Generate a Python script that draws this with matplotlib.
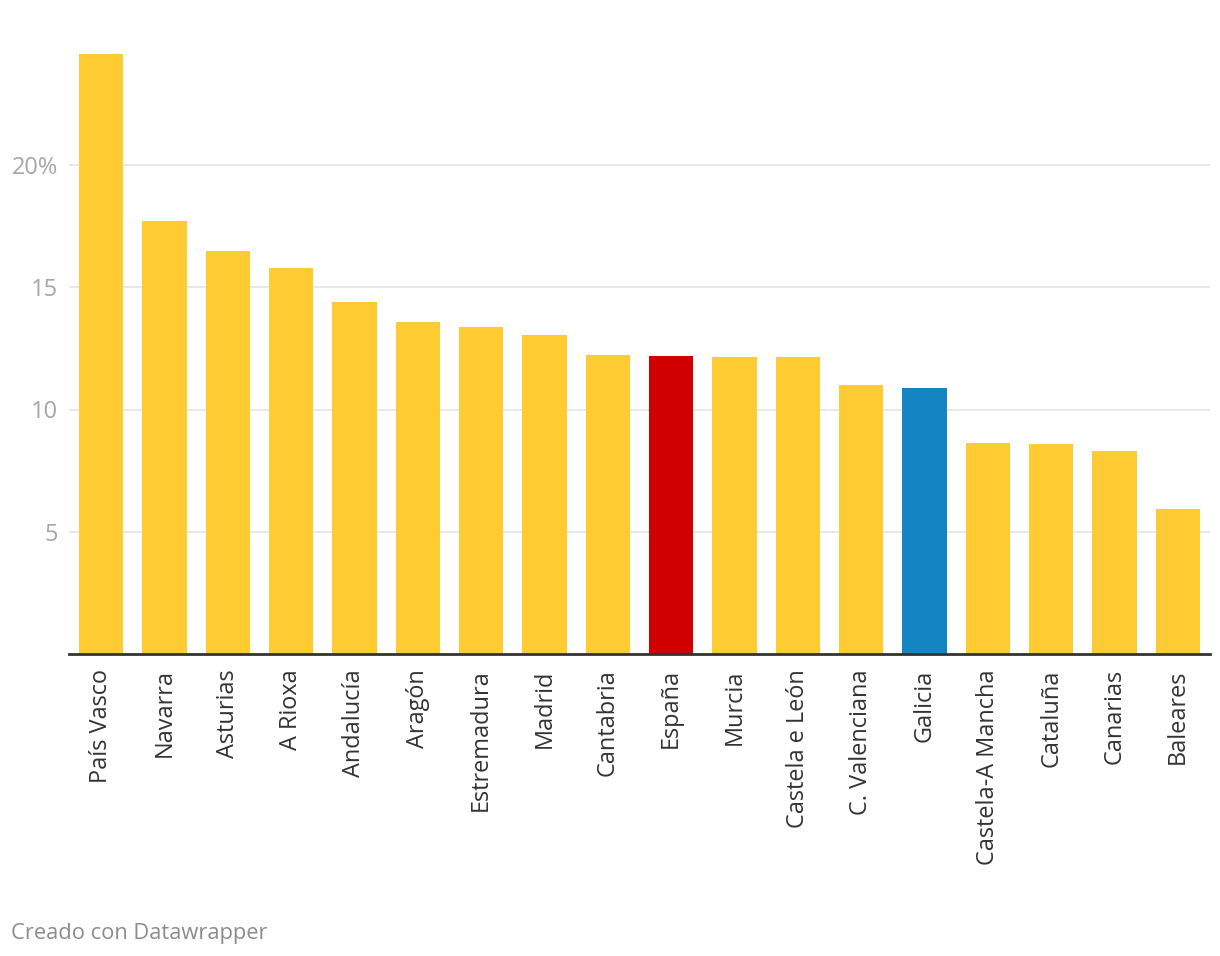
import matplotlib
matplotlib.use("Agg")
import matplotlib.pyplot as plt
from matplotlib.transforms import ScaledTranslation

regions = ["País Vasco", "Navarra", "Asturias", "A Rioxa", "Andalucía", "Aragón",
           "Estremadura", "Madrid", "Cantabria", "España", "Murcia", "Castela e León",
           "C. Valenciana", "Galicia", "Castela-A Mancha", "Cataluña", "Canarias", "Baleares"]
values = [24.54, 17.71, 16.48, 15.79, 14.40, 13.58, 13.37, 13.05, 12.23, 12.19,
          12.15, 12.15, 11.00, 10.88, 8.63, 8.59, 8.30, 5.93]
yticks = [5, 10, 15, 20]
ytick_labels = ["5", "10", "15", "20%"]

YELLOW = "#fecb33"
RED = "#d10000"
BLUE = "#1386c1"
colors = [RED if r == "España" else BLUE if r == "Galicia" else YELLOW for r in regions]

plt.rcParams['font.family'] = ['Open Sans', 'DejaVu Sans']

W, H = 1220, 956
fig = plt.figure(figsize=(W / 100, H / 100), dpi=100)
left, right = 69 / W, 1210 / W
bottom, top = 1 - 654 / H, 1 - 40 / H
ax = fig.add_axes([left, bottom, right - left, top - bottom])

x = list(range(len(regions)))
ax.bar(x, values, width=0.7, color=colors, zorder=3)
ax.set_xlim(-0.505, len(regions) - 0.495)
ymax = (654 - 40) / 24.45
ax.set_ylim(0, ymax)

ax.set_yticks(yticks)
ax.set_yticklabels(ytick_labels)
ax.grid(axis='y', color='#e6e6e6', linewidth=1.3, zorder=0)
ax.tick_params(axis='y', length=0, labelsize=17, labelcolor='#a6a6a6', pad=8)
off = ScaledTranslation(0, -3 / 100, fig.dpi_scale_trans)
for lab in ax.get_yticklabels():
    lab.set_verticalalignment('center')
    lab.set_transform(lab.get_transform() + off)

ax.set_xticks(x)
ax.set_xticklabels(regions, rotation=90, fontsize=16.9, color='#333333')
ax.tick_params(axis='x', length=0, pad=11)

for s in ['top', 'right', 'left']:
    ax.spines[s].set_visible(False)
ax.spines['bottom'].set_color('#333333')
ax.spines['bottom'].set_linewidth(2)
ax.spines['bottom'].set_zorder(4)

fig.text(11 / W, 1 - 934 / H, "Creado con Datawrapper", fontsize=15.75,
         color='#8c8c8c', va='center', ha='left')

fig.savefig("out.png", dpi=100, facecolor='white')
